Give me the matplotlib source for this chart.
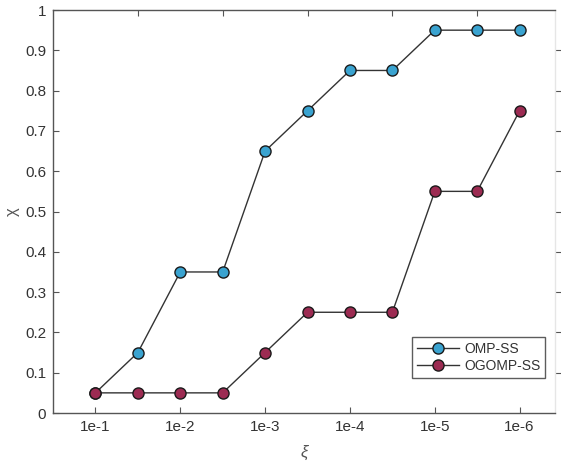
import matplotlib
matplotlib.use("Agg")
import matplotlib.pyplot as plt
import numpy as np

plt.rcParams["font.family"] = ["Liberation Sans", "DejaVu Sans"]

# threshold steps (half-decade spacing), labelled every decade
xi_labels = ["1e-1", "1e-2", "1e-3", "1e-4", "1e-5", "1e-6"]
n_steps = 11
omp_ss = [0.05, 0.15, 0.35, 0.35, 0.65, 0.75, 0.85, 0.85, 0.95, 0.95, 0.95]
ogomp_ss = [0.05, 0.05, 0.05, 0.05, 0.15, 0.25, 0.25, 0.25, 0.55, 0.55, 0.75]

TXT = "#333333"

fig = plt.figure(figsize=(5.61, 4.66), dpi=100)
ax = fig.add_axes([0.0945, 0.1137, 0.8945, 0.8648])

x = np.arange(n_steps)
ax.plot(x, omp_ss, "-", color="#333333", lw=1.0, marker="o", ms=8,
        mfc="#3aa3d0", mec="#1a1a1a", mew=1.0, label="OMP-SS", zorder=3)
ax.plot(x, ogomp_ss, "-", color="#333333", lw=1.0, marker="o", ms=8,
        mfc="#9c2b52", mec="#1a1a1a", mew=1.0, label="OGOMP-SS", zorder=3)

ax.set_xlim(-1, 10.83)
ax.set_ylim(0, 1)
ax.set_xticks(x[::2])
ax.set_xticklabels(xi_labels)
ax.set_yticks(np.round(np.arange(0, 1.01, 0.1), 1))
ax.set_yticklabels(["0"] + [f"{v:.1f}" for v in np.arange(0.1, 0.95, 0.1)] + ["1"])
ax.tick_params(direction="in", length=4, width=0.8, labelsize=11,
               colors="#555555", labelcolor=TXT, pad=5)

# mirrored ticks on the top and right edges
top = ax.secondary_xaxis("top")
top.set_xticks(x[1::2])
top.tick_params(direction="in", length=4, width=0.8, labeltop=False,
                colors="#555555")
right = ax.secondary_yaxis("right")
right.set_yticks(np.arange(0.1, 1.0, 0.1))
right.tick_params(direction="out", length=4, width=0.8, labelright=False,
                  colors="#555555")

for sp in ax.spines.values():
    sp.set_color("#555555")
    sp.set_linewidth(1.0)
ax.spines["right"].set_color("#e6e6e6")
top.spines["top"].set_visible(False)
right.spines["right"].set_visible(False)

ax.set_xlabel("ξ", fontsize=12, color="#555555", fontstyle="italic", labelpad=8)
ax.set_ylabel("χ", fontsize=12, color="#555555", labelpad=4)

leg = ax.legend(loc="lower right", bbox_to_anchor=(0.995, 0.07), fontsize=10,
                frameon=True, fancybox=False, handlelength=3.0,
                borderpad=0.35, labelspacing=0.25, handletextpad=0.4)
leg.get_frame().set_edgecolor("#333333")
leg.get_frame().set_linewidth(1.0)
for t in leg.get_texts():
    t.set_color(TXT)

fig.savefig("out.png", dpi=100)
